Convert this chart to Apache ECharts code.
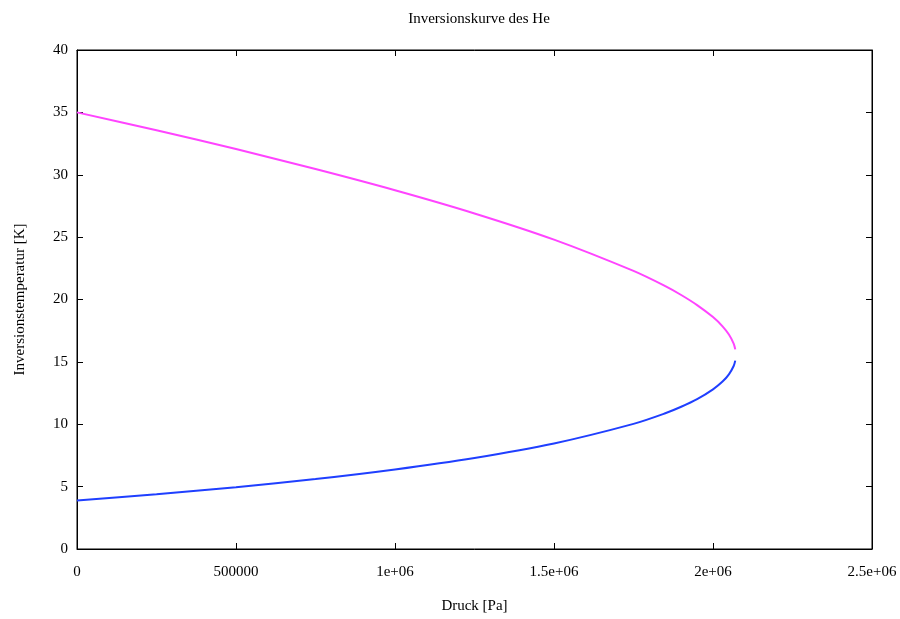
<!DOCTYPE html>
<html><head><meta charset="utf-8">
<script src="https://cdn.jsdelivr.net/npm/echarts@6/dist/echarts.min.js"></script>
<style>html,body{margin:0;padding:0;background:#fff}#c{width:900px;height:619px}</style>
</head><body><div id="c"></div>
<script>
// Pressure [Pa] (x) and inversion temperature [K] (y)
const pressureUpper = [0, 250000, 500000, 750000, 1000000, 1250000, 1500000, 1750000, 1850000, 1900000, 1950000, 2000000, 2030000, 2050000, 2065000, 2070000];
const tempUpper     = [35.0, 33.57, 32.06, 30.46, 28.76, 26.90, 24.80, 22.29, 21.07, 20.36, 19.55, 18.59, 17.85, 17.19, 16.47, 16.0];
const pressureLower = [0, 250000, 500000, 750000, 1000000, 1250000, 1500000, 1750000, 1850000, 1900000, 1950000, 2000000, 2030000, 2050000, 2065000, 2070000];
const tempLower     = [3.89, 4.39, 4.95, 5.61, 6.38, 7.30, 8.46, 10.03, 10.88, 11.40, 12.01, 12.80, 13.42, 14.00, 14.67, 15.1];
const xTickLabels = {0: '0', 500000: '500000', 1000000: '1e+06', 1500000: '1.5e+06', 2000000: '2e+06', 2500000: '2.5e+06'};

const font = 'Liberation Serif, Times New Roman, serif';
const pair = (xs, ys) => xs.map((x, i) => [x, ys[i]]);
const chart = echarts.init(document.getElementById('c'), null, {renderer: 'canvas'});
const tick = {show: true, inside: true, length: 6, lineStyle: {color: '#000', width: 1}};
const line = {show: true, onZero: false, lineStyle: {color: '#000', width: 1}};
chart.setOption({
  animation: false,
  backgroundColor: '#fff',
  title: {text: 'Inversionskurve des He', left: 474, textAlign: 'center', top: 7,
    textStyle: {fontFamily: font, fontSize: 15, fontWeight: 'normal', color: '#000'}},
  grid: {left: 77, right: 28, top: 50, bottom: 70, show: true, borderColor: '#000', borderWidth: 1,
    containLabel: false, outerBoundsMode: 'none'},
  xAxis: [{
    type: 'value', min: 0, max: 2500000, interval: 500000,
    name: 'Druck [Pa]', nameLocation: 'middle', nameGap: 50,
    nameTextStyle: {fontFamily: font, fontSize: 15, color: '#000'},
    axisLine: line, axisTick: tick, splitLine: {show: false},
    axisLabel: {fontFamily: font, fontSize: 15, color: '#000', margin: 16,
      formatter: v => xTickLabels[v] !== undefined ? xTickLabels[v] : String(v)}
  }, {
    type: 'value', position: 'top', min: 0, max: 2500000, interval: 500000,
    axisLine: line, axisTick: tick, axisLabel: {show: false}, splitLine: {show: false}
  }],
  yAxis: [{
    type: 'value', min: 0, max: 40, interval: 5,
    name: 'Inversionstemperatur [K]', nameLocation: 'middle', nameGap: 49,
    nameTextStyle: {fontFamily: font, fontSize: 15, color: '#000'},
    axisLine: line, axisTick: tick, splitLine: {show: false},
    axisLabel: {fontFamily: font, fontSize: 15, color: '#000', margin: 9}
  }, {
    type: 'value', position: 'right', min: 0, max: 40, interval: 5,
    axisLine: line, axisTick: tick, axisLabel: {show: false}, splitLine: {show: false}
  }],
  series: [{
    type: 'line', data: pair(pressureUpper, tempUpper), smooth: 0.3, showSymbol: false,
    lineStyle: {color: '#ff44ff', width: 2}, itemStyle: {color: '#ff44ff'}
  }, {
    type: 'line', data: pair(pressureLower, tempLower), smooth: 0.3, showSymbol: false,
    lineStyle: {color: '#1f3fff', width: 2}, itemStyle: {color: '#1f3fff'}
  }]
});
</script>
</body></html>
